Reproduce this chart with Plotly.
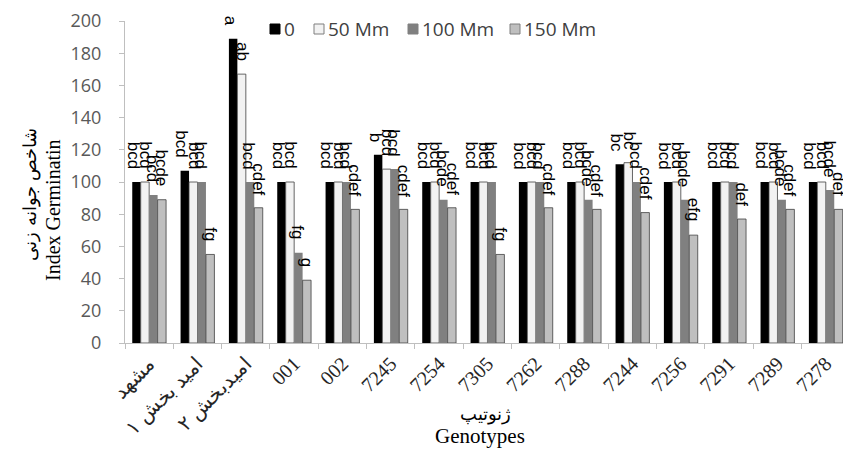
import plotly.graph_objects as go

# Germination index per genotype under four salinity levels
genotypes = ["مشهد", "امید بخش ۱", "امیدبخش ۲", "001", "002", "7245", "7254",
             "7305", "7262", "7288", "7244", "7256", "7291", "7289", "7278"]
series_names = ["0", "50 Mm", "100 Mm", "150 Mm"]

v0 = [100, 107, 189, 100, 100, 117, 100, 100, 100, 100, 111, 100, 100, 100, 100]
v50 = [100, 100, 167, 100, 100, 108, 100, 100, 100, 100, 112, 100, 100, 100, 100]
v100 = [92, 100, 100, 56, 100, 108, 89, 100, 100, 89, 100, 89, 100, 89, 95]
v150 = [89, 55, 84, 39, 83, 83, 84, 55, 84, 83, 81, 67, 77, 83, 83]

# Duncan grouping letters shown above each bar
letters0 = ["bcd", "bcd", "a", "bcd", "bcd", "b", "bcd", "bcd", "bcd", "bcd",
            "bc", "bcd", "bcd", "bcd", "bcd"]
letters50 = ["bcd", "bcd", "ab", "bcd", "bcd", "bcd", "bcd", "bcd", "bcd", "bcd",
             "bc", "bcd", "bcd", "bcd", "bcd"]
letters100 = ["bcd", "bcd", "bcd", "fg", "bcd", "bcd", "bcde", "bcd", "bcd", "bcde",
              "bcd", "bcde", "bcd", "bcde", "bcde"]
letters150 = ["bcde", "fg", "cdef", "g", "cdef", "cdef", "cdef", "fg", "cdef", "cdef",
              "cdef", "efg", "def", "cdef", "def"]

values = [v0, v50, v100, v150]
letters = [letters0, letters50, letters100, letters150]
fills = ["#000000", "#f2f2f2", "#808080", "#bfbfbf"]
outlines = ["#000000", "#404040", "#808080", "#404040"]
outline_w = [0, 0.8, 0, 0.8]

W, H = 843, 449
ML, MR, MT, MB = 125, 0, 21, 106
plot_w, plot_h = W - ML - MR, H - MT - MB


def px_x(p):
    return (p - ML) / plot_w


def px_y(p):
    return (H - MB - p) / plot_h


bargap = 0.3
n_series = len(values)
bar_w = (1 - bargap) / n_series

fig = go.Figure()
for j in range(n_series):
    fig.add_trace(go.Bar(
        x=genotypes, y=values[j], name=series_names[j], showlegend=False,
        marker=dict(color=fills[j], line=dict(color=outlines[j], width=outline_w[j])),
    ))

# approximate glyph advance widths (em) for the letter labels
glyph_em = {"a": 0.556, "b": 0.556, "c": 0.5, "d": 0.556, "e": 0.556, "f": 0.278, "g": 0.556}
lab_size = 17
gap = 13
lab_xshift = [-3, 1, -1, 0]

annotations = []
for j in range(n_series):
    for i, (val, lab) in enumerate(zip(values[j], letters[j])):
        text_len = sum(glyph_em.get(ch, 0.55) for ch in lab) * lab_size
        annotations.append(dict(
            x=i + (j - (n_series - 1) / 2) * bar_w, y=val, xref="x", yref="y",
            text=lab, textangle=90, showarrow=False,
            xanchor="center", yanchor="middle", yshift=gap + text_len / 2,
            xshift=lab_xshift[j],
            font=dict(family="Liberation Sans", size=lab_size, color="#000000"),
        ))

# Axis titles (Persian + English)
annotations += [
    dict(x=px_x(30), y=px_y(195), xref="paper", yref="paper", xanchor="center",
         yanchor="middle", text="شاخص جوانه زنی", textangle=-90, showarrow=False,
         font=dict(family="DejaVu Serif, Liberation Serif", size=18, color="#000000")),
    dict(x=px_x(53), y=px_y(210), xref="paper", yref="paper", xanchor="center",
         yanchor="middle", text="Index Germinatin", textangle=-90, showarrow=False,
         font=dict(family="Liberation Serif", size=20, color="#000000")),
    dict(x=px_x(486), y=px_y(414), xref="paper", yref="paper", xanchor="center",
         yanchor="middle", text="ژنوتیپ", showarrow=False,
         font=dict(family="DejaVu Serif, Liberation Serif", size=18, color="#000000")),
    dict(x=px_x(480), y=px_y(436), xref="paper", yref="paper", xanchor="center",
         yanchor="middle", text="Genotypes", showarrow=False,
         font=dict(family="Liberation Serif", size=21, color="#000000")),
]

# Legend: swatch squares plus labels along the top of the plot
legend_sq_left = [270, 314, 408, 510]
legend_outline = ["#000000", "#7f7f7f", "#808080", "#7f7f7f"]
shapes = []
for j in range(n_series):
    x0 = legend_sq_left[j]
    shapes.append(dict(type="rect", xref="paper", yref="paper",
                       x0=px_x(x0), x1=px_x(x0 + 10), y0=px_y(34), y1=px_y(24),
                       fillcolor=fills[j], line=dict(color=legend_outline[j], width=1)))
    annotations.append(dict(x=px_x(x0 + 12), y=px_y(29), xref="paper", yref="paper",
                            xanchor="left", yanchor="middle", text=series_names[j],
                            showarrow=False,
                            font=dict(family="Open Sans", size=19, color="#404040")))

fig.update_layout(
    width=W, height=H,
    margin=dict(l=ML, r=MR, t=MT, b=MB),
    paper_bgcolor="white", plot_bgcolor="white",
    barmode="group", bargap=bargap, bargroupgap=0,
    showlegend=False,
    annotations=annotations, shapes=shapes,
    xaxis=dict(type="category", range=[-0.5, 14.356], showline=True, linecolor="#bfbfbf",
               linewidth=1, ticks="outside", tickson="boundaries", ticklen=5,
               tickcolor="#bfbfbf", tickangle=-45, showgrid=False, zeroline=False,
               tickfont=dict(family="Liberation Serif, DejaVu Serif", size=20, color="#262626")),
    yaxis=dict(range=[0, 200], dtick=20, showline=True, linecolor="#bfbfbf", linewidth=1,
               ticks="outside", ticklen=5, tickcolor="#bfbfbf", showgrid=False,
               zeroline=False, ticklabelstandoff=14,
               tickfont=dict(family="Open Sans", size=18, color="#595959")),
)

fig.write_html("out.html")
